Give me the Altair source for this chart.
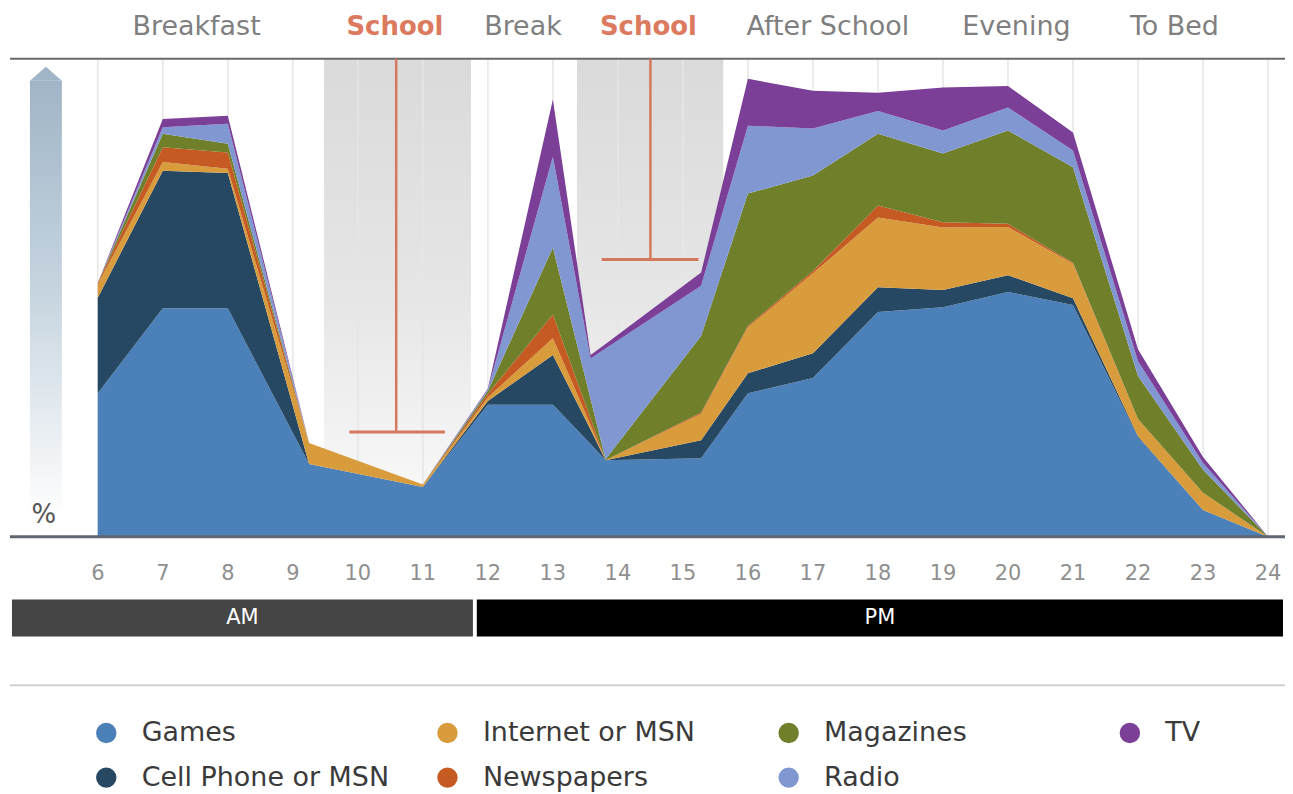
import altair as alt
import pandas as pd

FONT = "DejaVu Sans"

# ---------------- data ----------------
hours = [6, 7, 8, 9.25, 11, 12, 13, 13.58, 13.81, 15.28, 16, 17, 18, 19, 20, 21, 22, 23, 24]
games = [30, 47.8, 47.8, 15.2, 10.4, 27.6, 27.6, 19.4, 16, 16.4, 30, 33.2, 47, 48, 51.2, 48.5, 20.8, 5.6, 0]
cell = [20, 28.8, 28.3, 0, 0, 0.8, 10.4, 3, 0, 3.8, 4.2, 5.2, 5.2, 3.6, 3.5, 1.4, 0.2, 0, 0]
internet = [2.8, 1.8, 0.9, 4.4, 0.5, 0.8, 3.5, 1, 0, 5.5, 9.6, 16.7, 14.6, 13.1, 10.1, 7.2, 3.6, 3.6, 0]
newspapers = [0.3, 3.1, 3.4, 0, 0, 0.7, 5, 1.4, 0, 0.3, 0.3, 0.5, 2.5, 1.1, 0.7, 0.2, 0, 0, 0]
magazines = [0, 2.8, 1.8, 0, 0, 0.6, 14, 4, 0.2, 16, 27.7, 20, 15, 14.4, 19.5, 20, 9, 4.8, 0]
radio = [0, 1.4, 4.2, 0, 0, 0.3, 19, 8.5, 23.2, 10.5, 14.2, 9.8, 4.8, 4.8, 4.8, 3.5, 3.1, 1.4, 0]
tv = [0, 1.7, 1.7, 0, 0, 0.2, 12, 0.7, 0.9, 2.8, 9.8, 7.9, 3.8, 9.0, 4.5, 3.8, 2.5, 1.3, 0]

series_names = ["Games", "Cell Phone or MSN", "Internet or MSN", "Newspapers",
                "Magazines", "Radio", "TV"]
series_values = [games, cell, internet, newspapers, magazines, radio, tv]
series_colors = ["#4c80b9", "#264863", "#d99c3c", "#c55a22", "#6f7f2a", "#8197d2", "#7b3f98"]

tick_hours = list(range(6, 25))
tick_labels = [str(h) for h in tick_hours]

period_labels = ["Breakfast", "School", "Break", "School", "After School", "Evening", "To Bed"]
period_centers = [7.52, 10.57, 12.54, 14.47, 17.23, 20.13, 22.56]
period_is_school = [False, True, False, True, False, False, False]

school_start = [9.48, 13.37]
school_end = [11.74, 15.62]
beam_hour = [10.59, 14.5]
beam_cap_start = [9.87, 13.75]
beam_cap_end = [11.34, 15.24]
beam_level = [21.9, 58]

half_names = ["AM", "PM"]
half_start = [4.68, 11.83]
half_end = [11.77, 24.23]
half_colors = ["#454545", "#000000"]

# ---------------- tables ----------------
rows = []
for k, (name, vals) in enumerate(zip(series_names, series_values)):
    for h, v in zip(hours, vals):
        rows.append({"hour": h, "pct": v, "media": name, "stack": k})
df_area = pd.DataFrame(rows)

df_ticks = pd.DataFrame({"hour": tick_hours, "label": tick_labels, "top": 100, "bottom": 0})
df_periods = pd.DataFrame({"label": period_labels, "hour": period_centers, "school": period_is_school})
df_school = pd.DataFrame({"start": school_start, "end": school_end, "top": 100, "bottom": 0})
df_beam = pd.DataFrame({"hour": beam_hour, "cs": beam_cap_start, "ce": beam_cap_end,
                        "level": beam_level, "top": 100})
df_half = pd.DataFrame({"name": half_names, "start": half_start, "end": half_end})
df_frame = pd.DataFrame({"level": [100, 0]})
one = pd.DataFrame({"k": [0]})

# ---------------- scales ----------------
W, H = 1280, 786
xs = alt.Scale(domain=[4.619, 24.261], nice=False, zero=False)
ys = alt.Scale(domain=[(529 - H) / 4.79, 529 / 4.79], nice=False, zero=False)

layers = []

# school bands (gradient)
band_grad = alt.Gradient(
    gradient="linear",
    stops=[alt.GradientStop(color="#dadada", offset=0),
           alt.GradientStop(color="#e6e6e6", offset=0.5),
           alt.GradientStop(color="#fcfcfc", offset=1)],
    x1=0, x2=0, y1=0, y2=1)
layers.append(
    alt.Chart(df_school).mark_rect(color=band_grad).encode(
        x=alt.X("start:Q", scale=xs, axis=None), x2="end:Q",
        y=alt.Y("top:Q", scale=ys, axis=None), y2="bottom:Q"))

# vertical grid lines
layers.append(
    alt.Chart(df_ticks).mark_rule(color="#e6e6e6", strokeWidth=1.5).encode(
        x=alt.X("hour:Q", scale=xs, axis=None),
        y=alt.Y("top:Q", scale=ys, axis=None), y2="bottom:Q"))

# stacked areas
layers.append(
    alt.Chart(df_area).mark_area(interpolate="linear", opacity=1).encode(
        x=alt.X("hour:Q", scale=xs, axis=None),
        y=alt.Y("pct:Q", stack="zero", scale=ys, axis=None),
        color=alt.Color(
            "media:N",
            scale=alt.Scale(domain=series_names, range=series_colors),
            legend=alt.Legend(
                orient="none", legendX=85, legendY=712, columns=4, gridAlign="all",
                columnPadding=44, rowPadding=17, symbolType="circle", symbolSize=420,
                symbolStrokeWidth=0, symbolOpacity=1, labelFont=FONT, labelFontSize=27,
                labelColor="#3a3a3a", labelOffset=22, labelLimit=500, title=None)),
        order=alt.Order("stack:Q", sort="ascending")))

# frame lines (top and bottom)
layers.append(
    alt.Chart(df_frame).transform_filter("datum.level == 100").mark_rule(
        color="#6a6a6a", strokeWidth=2).encode(
        x=alt.value(2), x2=alt.value(1282), y=alt.Y("level:Q", scale=ys, axis=None)))
layers.append(
    alt.Chart(df_frame).transform_filter("datum.level == 0").mark_rule(
        color="#5d6670", strokeWidth=3).encode(
        x=alt.value(2), x2=alt.value(1282), y=alt.Y("level:Q", scale=ys, axis=None)))

# I-beams
beam_col = "#d4785e"
layers.append(
    alt.Chart(df_beam).mark_rule(color=beam_col, strokeWidth=2.5).encode(
        x=alt.X("hour:Q", scale=xs, axis=None),
        y=alt.Y("top:Q", scale=ys, axis=None), y2="level:Q"))
layers.append(
    alt.Chart(df_beam).mark_rule(color=beam_col, strokeWidth=3).encode(
        x=alt.X("cs:Q", scale=xs, axis=None), x2="ce:Q",
        y=alt.Y("level:Q", scale=ys, axis=None)))

# period labels on top
layers.append(
    alt.Chart(df_periods).transform_filter("!datum.school").mark_text(
        font=FONT, fontSize=27, color="#7f7f7f", baseline="middle", align="center").encode(
        x=alt.X("hour:Q", scale=xs, axis=None), y=alt.value(18), text="label:N"))
layers.append(
    alt.Chart(df_periods).transform_filter("datum.school").mark_text(
        font=FONT, fontSize=26, fontWeight="bold", color="#dc7a60", baseline="middle",
        align="center").encode(
        x=alt.X("hour:Q", scale=xs, axis=None), y=alt.value(18), text="label:N"))

# hour tick labels
layers.append(
    alt.Chart(df_ticks).mark_text(
        font=FONT, fontSize=21, color="#8f8f8f", baseline="middle", align="center").encode(
        x=alt.X("hour:Q", scale=xs, axis=None), y=alt.value(566), text="label:N"))

# AM / PM bars
for name, col in zip(half_names, half_colors):
    base = alt.Chart(df_half).transform_filter(f"datum.name == '{name}'")
    layers.append(
        base.mark_rect(color=col).encode(
            x=alt.X("start:Q", scale=xs, axis=None), x2="end:Q",
            y=alt.value(592), y2=alt.value(629)))
    layers.append(
        base.transform_calculate(mid="(datum.start + datum.end) / 2").mark_text(
            font=FONT, fontSize=21, color="white", baseline="middle", align="center").encode(
            x=alt.X("mid:Q", scale=xs, axis=None), y=alt.value(611), text="name:N"))

# separator above legend
layers.append(
    alt.Chart(one).mark_rule(color="#d0d0d0", strokeWidth=2).encode(
        x=alt.value(2), x2=alt.value(1282), y=alt.value(678)))

# left gradient arrow
arrow_grad = alt.Gradient(
    gradient="linear",
    stops=[alt.GradientStop(color="#a0b5c7", offset=0),
           alt.GradientStop(color="#c7d5e0", offset=0.5),
           alt.GradientStop(color="#fdfdfd", offset=1)],
    x1=0, x2=0, y1=0, y2=1)
layers.append(
    alt.Chart(one).mark_rect(color=arrow_grad).encode(
        x=alt.value(22), x2=alt.value(54), y=alt.value(72), y2=alt.value(502)))
layers.append(
    alt.Chart(one).mark_point(shape="M-1,0.44L0,-0.44L1,0.44Z", filled=True,
                              color="#a0b5c7", opacity=1, size=1024, strokeWidth=0).encode(
        x=alt.value(38), y=alt.value(65)))
layers.append(
    alt.Chart(one).transform_calculate(t="'%'").mark_text(
        font=FONT, fontSize=26, color="#555555", baseline="middle", align="center").encode(
        x=alt.value(36), y=alt.value(507), text="t:N"))

chart = alt.layer(*layers).properties(
    width=W, height=H, padding=0,
    autosize=alt.AutoSizeParams(type="none"),
    background="white").configure_view(stroke=None)

chart.save("out.html", embed_options={"renderer": "svg", "actions": False})
